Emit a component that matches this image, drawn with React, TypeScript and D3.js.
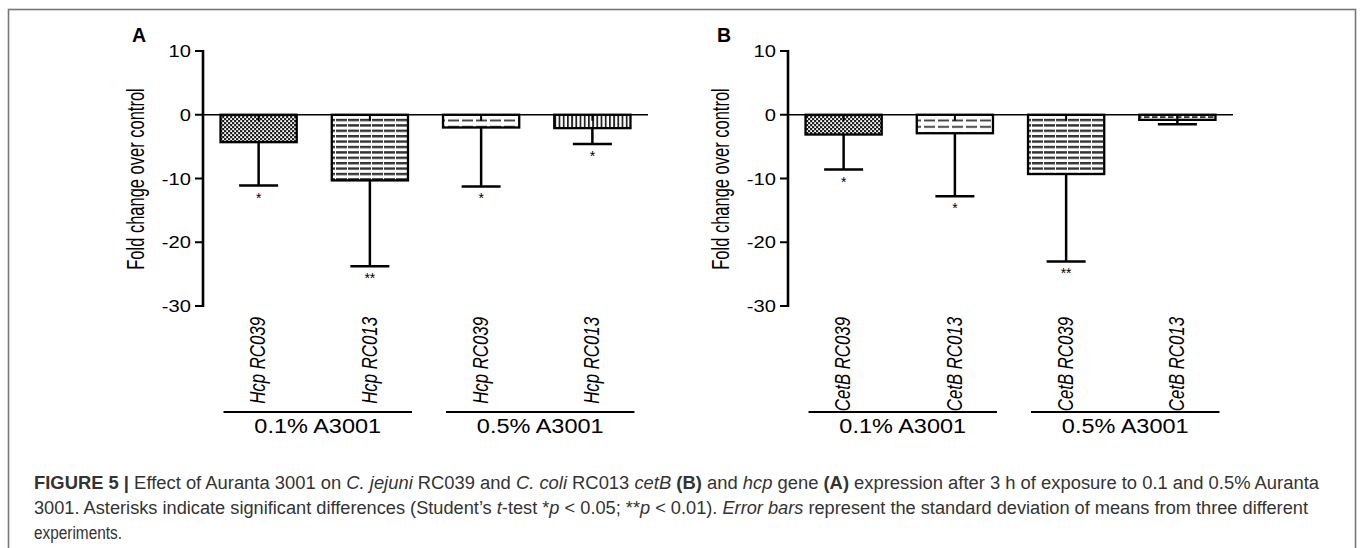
import React from "react";
import * as d3 from "d3";

const categoriesA = ["Hcp RC039", "Hcp RC013", "Hcp RC039", "Hcp RC013"];
const categoriesB = ["CetB RC039", "CetB RC013", "CetB RC039", "CetB RC013"];
const groupLabels = ["0.1% A3001", "0.5% A3001"];
const meansA = [-4.3, -10.3, -2.0, -2.1];
const sdA = [6.8, 13.45, 9.25, 2.5];
const sigA = ["*", "**", "*", "*"];
const meansB = [-3.1, -2.9, -9.3, -0.8];
const sdB = [5.5, 9.9, 13.7, 0.7];
const sigB = ["*", "*", "**", ""];
const patternsA = ["dots", "hlines", "dash", "vlines"];
const patternsB = ["dots", "dash", "hlines", "dash2"];
const yTicks = [10, 0, -10, -20, -30];
const yDomain: [number, number] = [-30, 10];

const FONT = "'Liberation Sans', Arial, Helvetica, sans-serif";

function Panel({ axisX, letter, cats, means, sds, sigs, pats }: any) {
  const y = d3.scaleLinear().domain(yDomain).range([306, 51]);
  const x = d3
    .scaleBand<string>()
    .domain(cats.map((_: string, i: number) => String(i)))
    .range([axisX, axisX + 445])
    .paddingInner(0.315)
    .paddingOuter(0.1575);
  const bw = x.bandwidth();
  const y0 = y(0);
  return (
    <g>
      <text x={axisX - 71} y={42} fontFamily={FONT} fontWeight="bold" fontSize={19.5}>
        {letter}
      </text>
      <text
        transform={`translate(${axisX - 66},179) scale(1.45,1) rotate(-90)`}
        textAnchor="middle"
        dy="0.3em"
        fontFamily={FONT}
        fontSize={16.5}
      >
        Fold change over control
      </text>
      {yTicks.map((t) => (
        <g key={t}>
          <line x1={axisX - 8} x2={axisX} y1={y(t)} y2={y(t)} stroke="#000" strokeWidth={2} />
          <text
            transform={`translate(${axisX - 12},${y(t)}) scale(1.2,1)`}
            textAnchor="end"
            dy="0.36em"
            fontFamily={FONT}
            fontSize={16.8}
          >
            {t}
          </text>
        </g>
      ))}
      <line x1={axisX} x2={axisX} y1={y(10) - 1} y2={y(-30) + 1} stroke="#000" strokeWidth={2.6} />
      {means.map((m: number, i: number) => {
        const bx = x(String(i))!;
        const cx = bx + bw / 2;
        const ym = y(m);
        const ye = y(m - sds[i]);
        return (
          <g key={i}>
            <line x1={cx} x2={cx} y1={ym} y2={ye} stroke="#000" strokeWidth={2.5} />
            <line x1={cx - 19.5} x2={cx + 19.5} y1={ye} y2={ye} stroke="#000" strokeWidth={2.5} />
            <rect x={bx} y={y0} width={bw} height={ym - y0} fill={`url(#${pats[i]})`} stroke="#000" strokeWidth={2.3} />
            <line x1={cx} x2={cx} y1={y0} y2={y0 + 6} stroke="#000" strokeWidth={2} />
            {sigs[i] && (
              <text x={cx} y={ye + 17} textAnchor="middle" fontFamily={FONT} fontSize={14}>
                {sigs[i]}
              </text>
            )}
            <text
              transform={`translate(${cx},317) scale(1.35,1) rotate(-90)`}
              textAnchor="end"
              dy="0.3em"
              fontFamily={FONT}
              fontStyle="italic"
              fontSize={16.8}
            >
              {cats[i]}
            </text>
          </g>
        );
      })}
      <line x1={axisX} x2={axisX + 445} y1={y0} y2={y0} stroke="#000" strokeWidth={1.6} />
      {groupLabels.map((g, gi) => {
        const x1 = x(String(gi * 2))! + 3;
        const x2 = x(String(gi * 2 + 1))! + bw + 4;
        return (
          <g key={g}>
            <line x1={x1} x2={x2} y1={412} y2={412} stroke="#000" strokeWidth={2} />
            <text
              transform={`translate(${(x1 + x2) / 2},433) scale(1.12,1)`}
              textAnchor="middle"
              fontFamily={FONT}
              fontSize={21}
            >
              {g}
            </text>
          </g>
        );
      })}
    </g>
  );
}

export default function App() {
  return (
    <svg
      width={1360}
      height={548}
      style={{ position: "absolute", left: 0, top: 0, background: "#fff" }}
    >
      <defs>
        <pattern id="dots" width={4} height={4} patternUnits="userSpaceOnUse">
          <rect width={4} height={4} fill="#1a1a1a" />
          <rect x={0.2} y={0.2} width={1.9} height={1.9} fill="#fff" />
          <rect x={2.2} y={2.2} width={1.9} height={1.9} fill="#fff" />
        </pattern>
        <pattern id="hlines" width={12} height={5.4} patternUnits="userSpaceOnUse">
          <rect width={12} height={5.4} fill="#fff" />
          <rect y={0} width={12} height={2.4} fill="#333" />
          <rect x={11} width={1} height={5.4} fill="#fff" />
        </pattern>
        <pattern id="dash" width={14} height={6.5} patternUnits="userSpaceOnUse">
          <rect width={14} height={6.5} fill="#fff" />
          <rect y={2.5} width={11} height={1.8} fill="#333" />
        </pattern>
        <pattern id="dash2" width={8} height={5} patternUnits="userSpaceOnUse">
          <rect width={8} height={5} fill="#fff" />
          <rect y={1.2} width={5.5} height={1.8} fill="#333" />
        </pattern>
        <pattern id="vlines" width={4.2} height={10} patternUnits="userSpaceOnUse">
          <rect width={4.2} height={10} fill="#fff" />
          <rect x={0} width={1.8} height={10} fill="#222" />
        </pattern>
      </defs>
      <rect x={8.5} y={9.5} width={1347} height={600} fill="none" stroke="#777" strokeWidth={1.6} />
      <Panel axisX={203} letter="A" cats={categoriesA} means={meansA} sds={sdA} sigs={sigA} pats={patternsA} />
      <Panel axisX={788} letter="B" cats={categoriesB} means={meansB} sds={sdB} sigs={sigB} pats={patternsB} />
      <g fontFamily={FONT} fontSize={18} fill="#333">
        <text x={34} y={489} textLength={1285} lengthAdjust="spacingAndGlyphs">
          <tspan fontWeight="bold">FIGURE 5 |</tspan>
          <tspan> Effect of Auranta 3001 on </tspan>
          <tspan fontStyle="italic">C. jejuni</tspan>
          <tspan> RC039 and </tspan>
          <tspan fontStyle="italic">C. coli</tspan>
          <tspan> RC013 </tspan>
          <tspan fontStyle="italic">cetB</tspan>
          <tspan> </tspan>
          <tspan fontWeight="bold">(B)</tspan>
          <tspan> and </tspan>
          <tspan fontStyle="italic">hcp</tspan>
          <tspan> gene </tspan>
          <tspan fontWeight="bold">(A)</tspan>
          <tspan> expression after 3 h of exposure to 0.1 and 0.5% Auranta</tspan>
        </text>
        <text x={34} y={514} textLength={1274} lengthAdjust="spacingAndGlyphs">
          <tspan>3001. Asterisks indicate significant differences (Student’s </tspan>
          <tspan fontStyle="italic">t</tspan>
          <tspan>-test *</tspan>
          <tspan fontStyle="italic">p</tspan>
          <tspan> &lt; 0.05; **</tspan>
          <tspan fontStyle="italic">p</tspan>
          <tspan> &lt; 0.01). </tspan>
          <tspan fontStyle="italic">Error bars</tspan>
          <tspan> represent the standard deviation of means from three different</tspan>
        </text>
        <text x={34} y={539} textLength={88} lengthAdjust="spacingAndGlyphs">
          experiments.
        </text>
      </g>
    </svg>
  );
}
